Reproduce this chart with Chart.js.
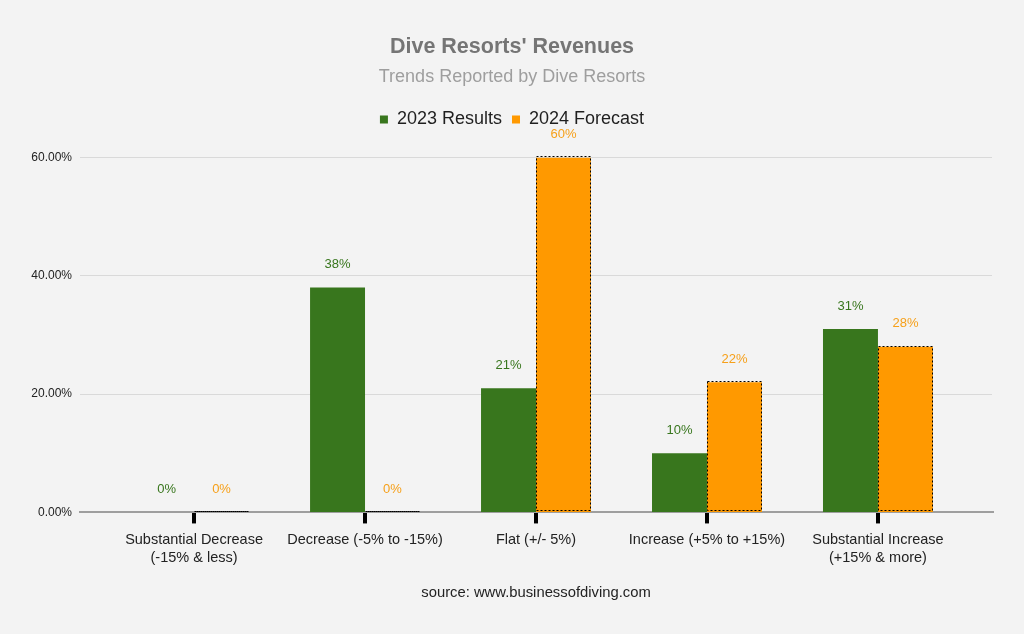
<!DOCTYPE html>
<html>
<head>
<meta charset="utf-8">
<script src="https://cdn.jsdelivr.net/npm/chart.js@4"></script>
<style>
  html, body { margin: 0; padding: 0; background: #f3f3f3; }
  #wrap { width: 1024px; height: 634px; }
</style>
</head>
<body>
<div id="wrap"><canvas id="chart"></canvas></div>
<script>
// categories (multi-line labels) and values
const categories = [
    ["Substantial Decrease", "(-15% & less)"],
    ["Decrease (-5% to -15%)"],
    ["Flat (+/- 5%)"],
    ["Increase (+5% to +15%)"],
    ["Substantial Increase", "(+15% & more)"]
];
const seriesNames = ["2023 Results", "2024 Forecast"];
const results2023 = [0, 38, 21, 10, 31];
const forecast2024 = [0, 0, 60, 22, 28];
const yTicks = [0, 20, 40, 60];

const barColors = ["#38761d", "#ff9900"];
const labelColors = ["#38761d", "#f6a01a"];

Chart.defaults.font.family = "'Liberation Sans', Arial, sans-serif";

// legend in the original leaves a gap above the plot
const legendGap = {
    id: "legendGap",
    beforeLayout(chart) {
        const legend = chart.legend;
        if (!legend || legend._gapPatched) return;
        const fit = legend.fit;
        legend.fit = function () {
            fit.call(this);
            this.height += 19;
        };
        legend._gapPatched = true;
    }
};

// dotted black outline round the forecast bars
const dottedOutline = {
    id: "dottedOutline",
    afterDatasetsDraw(chart) {
        const ctx = chart.ctx;
        const meta = chart.getDatasetMeta(1);
        ctx.save();
        ctx.strokeStyle = "#000";
        ctx.lineWidth = 1;
        ctx.setLineDash([2, 2]);
        meta.data.forEach((bar) => {
            const p = bar.getProps(["x", "y", "base", "width"], true);
            const left = Math.round(p.x - p.width / 2) + 0.5;
            const top = Math.round(p.y) - 0.5;
            const h = Math.max(0, Math.round(p.base - p.y) - 1);
            ctx.strokeRect(left, top, Math.round(p.width) - 1, h);
        });
        ctx.restore();
    }
};

// value labels above every bar
const barLabels = {
    id: "barLabels",
    afterDatasetsDraw(chart) {
        const ctx = chart.ctx;
        ctx.save();
        ctx.font = "13px 'Liberation Sans', Arial, sans-serif";
        ctx.textAlign = "center";
        ctx.textBaseline = "middle";
        chart.data.datasets.forEach((ds, d) => {
            ctx.fillStyle = labelColors[d];
            chart.getDatasetMeta(d).data.forEach((bar, i) => {
                ctx.fillText(ds.data[i].y + "%", bar.x, bar.y - 23);
            });
        });
        ctx.restore();
    }
};

new Chart(document.getElementById("chart"), {
    type: "bar",
    data: {
        datasets: [
            {
                label: seriesNames[0],
                data: results2023.map((v, i) => ({ x: i, y: v })),
                backgroundColor: barColors[0],
                borderWidth: 0,
                categoryPercentage: 0.643,
                barPercentage: 1
            },
            {
                label: seriesNames[1],
                data: forecast2024.map((v, i) => ({ x: i, y: v })),
                backgroundColor: barColors[1],
                borderWidth: 0,
                categoryPercentage: 0.643,
                barPercentage: 1
            }
        ]
    },
    options: {
        responsive: true,
        maintainAspectRatio: false,
        animation: false,
        layout: { padding: 0 },
        plugins: {
            title: {
                display: true,
                text: "Dive Resorts' Revenues",
                color: "#757575",
                font: { size: 21.5, weight: "bold" },
                padding: { top: 34, bottom: 6 }
            },
            subtitle: {
                display: true,
                text: "Trends Reported by Dive Resorts",
                color: "#9e9e9e",
                font: { size: 18 },
                padding: { top: 0, bottom: 13 }
            },
            legend: {
                labels: {
                    boxWidth: 8,
                    boxHeight: 8,
                    padding: 10,
                    color: "#1f1f1f",
                    font: { size: 18 }
                }
            },
            tooltip: { enabled: false }
        },
        scales: {
            x: {
                type: "linear",
                min: -0.667,
                max: 4.667,
                bounds: "data",
                offset: false,
                afterBuildTicks: (s) => {
                    s.ticks = categories.map((c, i) => ({ value: i }));
                },
                grid: {
                    display: true,
                    drawOnChartArea: false,
                    drawTicks: true,
                    tickLength: 11,
                    color: "#000",
                    lineWidth: 4,
                    offset: false
                },
                border: { display: true, color: "#9e9e9e", width: 2 },
                ticks: {
                    autoSkip: false,
                    maxRotation: 0,
                    padding: 8,
                    color: "#222",
                    font: { size: 14.5, lineHeight: 1.2 },
                    callback: (v) => categories[v]
                },
                title: {
                    display: true,
                    text: "source: www.businessofdiving.com",
                    color: "#222",
                    font: { size: 14.8, lineHeight: 1.2 },
                    padding: { top: 10, bottom: 32 }
                }
            },
            y: {
                min: 0,
                max: 60,
                afterBuildTicks: (s) => {
                    s.ticks = yTicks.map((v) => ({ value: v }));
                },
                afterFit: (s) => {
                    s.width = 80;
                },
                grid: { color: "#d9d9d9", drawTicks: false, lineWidth: 1 },
                border: { display: false },
                ticks: {
                    padding: 8,
                    color: "#222",
                    font: { size: 12 },
                    callback: (v) => v.toFixed(2) + "%"
                }
            },
            // empty right-hand axis, only keeps the plot off the right edge
            spacer: {
                type: "linear",
                position: "right",
                display: true,
                afterFit: (s) => {
                    s.width = 32;
                },
                grid: { display: false },
                border: { display: false },
                ticks: { display: false }
            }
        }
    },
    plugins: [legendGap, dottedOutline, barLabels]
});
</script>
</body>
</html>
